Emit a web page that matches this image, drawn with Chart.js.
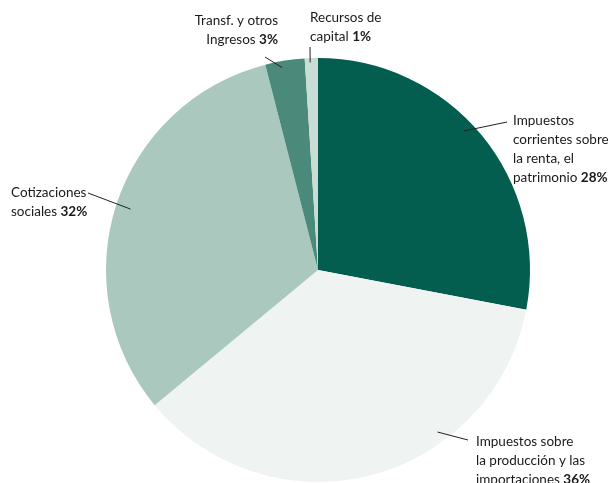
<!DOCTYPE html>
<html>
<head>
<meta charset="utf-8">
<script src="https://cdn.jsdelivr.net/npm/chart.js@4.4.1/dist/chart.umd.min.js"></script>
<style>
  html, body { margin: 0; padding: 0; background: #ffffff; }
  #wrap { width: 608px; height: 483px; }
</style>
</head>
<body>
<div id="wrap"><canvas id="grafico"></canvas></div>
<script>
// datos
const categorias = [
  "Impuestos corrientes sobre la renta, el patrimonio",
  "Impuestos sobre la producción y las importaciones",
  "Cotizaciones sociales",
  "Transf. y otros Ingresos",
  "Recursos de capital"
];
const valores = [28, 36, 32, 3, 1];
const lineasEtiqueta = [
  ["Impuestos", "corrientes sobre", "la renta, el", "patrimonio"],
  ["Impuestos sobre", "la producción y las", "importaciones"],
  ["Cotizaciones", "sociales"],
  ["Transf. y otros", "Ingresos"],
  ["Recursos de", "capital"]
];
const colores = ["#035e4f", "#eff4f2", "#abc8bf", "#4b8a7b", "#cadcd6"];

// posicion de cada etiqueta: x, y (primera linea), alineacion, punto de la guia
const layout = [
  { x: 513, y: 121, align: "left", f: 0.46, rf: 0.95, ex: 507, ey: 122 },
  { x: 476, y: 442, align: "left", f: 0.33, rf: 0.95, ex: 468, ey: 440 },
  { x: 11, y: 193, align: "left", f: 0.50, rf: 0.93, ex: 88, ey: 193 },
  { x: 278, y: 21, align: "right", f: 0.40, rf: 0.97, ex: 265, ey: 57 },
  { x: 310, y: 18, align: "left", f: 0.40, rf: 0.98, ex: 310, ey: 47 }
];

const fuente = "Lato, 'Open Sans', sans-serif";
const tam = 13.5;
const alto = 19;

const etiquetas = {
  id: "etiquetas",
  afterDraw(chart) {
    const ctx = chart.ctx;
    const arcos = chart.getDatasetMeta(0).data;
    ctx.save();
    arcos.forEach((arc, i) => {
      const L = layout[i];
      const a = arc.startAngle + L.f * (arc.endAngle - arc.startAngle);
      const sx = arc.x + L.rf * arc.outerRadius * Math.cos(a);
      const sy = arc.y + L.rf * arc.outerRadius * Math.sin(a);
      ctx.strokeStyle = "#222";
      ctx.lineWidth = 1;
      ctx.beginPath();
      ctx.moveTo(sx, sy);
      ctx.lineTo(L.ex, L.ey);
      ctx.stroke();

      const lineas = lineasEtiqueta[i];
      ctx.fillStyle = "#1a1a1a";
      ctx.textBaseline = "middle";
      lineas.forEach((txt, j) => {
        const y = L.y + j * alto;
        const ultima = j === lineas.length - 1;
        ctx.font = tam + "px " + fuente;
        const t1 = ultima ? txt + " " : txt;
        const w1 = ctx.measureText(t1).width;
        let w2 = 0;
        const pct = valores[i] + "%";
        if (ultima) {
          ctx.font = "bold " + tam + "px " + fuente;
          w2 = ctx.measureText(pct).width;
        }
        const x0 = L.align === "right" ? L.x - (w1 + w2) : L.x;
        ctx.textAlign = "left";
        ctx.font = tam + "px " + fuente;
        ctx.fillText(t1, x0, y);
        if (ultima) {
          ctx.font = "bold " + tam + "px " + fuente;
          ctx.fillText(pct, x0 + w1, y);
        }
      });
    });
    ctx.restore();
  }
};

new Chart("grafico", {
  type: "pie",
  data: {
    labels: categorias,
    datasets: [{
      data: valores,
      backgroundColor: colores,
      borderWidth: 0
    }]
  },
  options: {
    responsive: true,
    maintainAspectRatio: false,
    animation: false,
    layout: { padding: { top: 58, bottom: 1, left: 106, right: 78 } },
    plugins: {
      legend: { display: false },
      tooltip: { enabled: false }
    }
  },
  plugins: [etiquetas]
});
</script>
</body>
</html>
